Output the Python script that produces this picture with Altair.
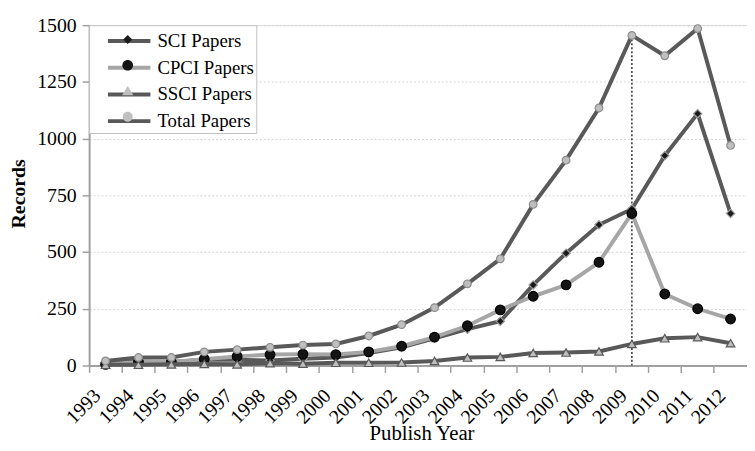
import altair as alt
import pandas as pd

years = ["1993", "1994", "1995", "1996", "1997", "1998", "1999", "2000", "2001", "2002",
         "2003", "2004", "2005", "2006", "2007", "2008", "2009", "2010", "2011", "2012"]
sci = [12, 17, 15, 25, 25, 22, 30, 35, 55, 80, 120, 160, 195, 355, 495, 620, 690, 925, 1110, 670]
cpci = [5, 15, 15, 28, 40, 48, 50, 48, 60, 85, 125, 175, 245, 305, 355, 455, 670, 315, 250, 205]
ssci = [3, 3, 5, 7, 5, 10, 8, 12, 12, 13, 20, 35, 38, 55, 57, 62, 95, 120, 125, 98]
total = [20, 35, 35, 60, 70, 80, 90, 95, 130, 180, 255, 360, 470, 710, 905, 1135, 1455, 1365, 1485, 970]

names = ["SCI Papers", "CPCI Papers", "SSCI Papers", "Total Papers"]
values = [sci, cpci, ssci, total]

drop_year = ["2009"]
drop_top = [1455]

rows = []
for n, vals in zip(names, values):
    for yr, v in zip(years, vals):
        rows.append({"year": yr, "value": v, "series": n, "series_b": n + " "})
df = pd.DataFrame(rows)
drop_df = pd.DataFrame({"year": drop_year, "value": drop_top, "bottom": [0]})

FONT = "Liberation Serif"
W, H = 665, 344

line_colors = ["#595959", "#a6a6a6", "#595959", "#595959"]
marker = {
    "SCI Papers": dict(shape="diamond", fill="#1a1a1a", stroke="#9a9a9a", size=70),
    "CPCI Papers": dict(shape="circle", fill="#141414", stroke="#000000", size=95),
    "SSCI Papers": dict(shape="triangle-up", fill="#bfbfbf", stroke="#595959", size=75),
    "Total Papers": dict(shape="circle", fill="#bfbfbf", stroke="#8c8c8c", size=60),
}

x_axis = alt.Axis(title="Publish Year", labelAngle=-45, labelAlign="right", labelBaseline="middle",
                  bandPosition=0, labelOffset=-8, labelPadding=20, tickSize=7, tickColor="#a0a0a0",
                  tickWidth=1.5, domainColor="#a0a0a0", domainWidth=2, grid=False,
                  labelFont=FONT, labelFontSize=20, labelColor="#000000",
                  titleFont=FONT, titleFontSize=21, titleFontWeight="normal", titleColor="#000000",
                  titleX=336, titleY=75, titleBaseline="alphabetic", titleAlign="center")
y_axis = alt.Axis(title="Records", values=[0, 250, 500, 750, 1000, 1250, 1500], format="d",
                  tickSize=7, tickColor="#a0a0a0", tickWidth=1.5, domainColor="#a0a0a0",
                  domainWidth=2, grid=True, gridColor="#d4d4d4", gridDash=[2, 2], gridWidth=1,
                  labelFont=FONT, labelFontSize=20, labelColor="#000000", labelPadding=6,
                  titleFont=FONT, titleFontSize=20, titleFontWeight="bold", titleColor="#000000",
                  titleX=-71, titleY=170, titleBaseline="middle", titleAlign="center", titleAngle=-90)
x_scale = alt.Scale(type="band", domain=years, paddingInner=0, paddingOuter=0)
y_scale = alt.Scale(domain=[0, 1500], nice=False)
x_enc = alt.X("year:O", scale=x_scale, axis=x_axis)
y_enc = alt.Y("value:Q", scale=y_scale, axis=y_axis)

base = alt.Chart(df)
layers = []

drop = alt.Chart(drop_df).mark_rule(color="#333333", strokeDash=[2, 2], strokeWidth=1.5).encode(
    x=x_enc, y=y_enc, y2="bottom:Q")
layers.append(drop)

for n, c in zip(names, line_colors):
    m = marker[n]
    sub = base.transform_filter(alt.datum.series == n)
    layers.append(sub.mark_line(color=c, strokeWidth=4).encode(x=x_enc, y=y_enc))
    layers.append(sub.mark_point(filled=True, shape=m["shape"], fill=m["fill"], stroke=m["stroke"],
                                 strokeWidth=1.2, size=m["size"], opacity=1).encode(x=x_enc, y=y_enc))

# legend geometry: symbol nominal size 24px, line path extends beyond it
common_legend = dict(orient="none", legendX=0, legendY=0, title=None, symbolSize=576,
                     labelFont=FONT, labelFontSize=19, labelColor="#000000", labelOffset=14.5,
                     padding=2, symbolOffset=24.5, rowPadding=3, labelLimit=300, symbolOpacity=1)

legA = base.transform_filter("false").mark_point(filled=False, opacity=1).encode(
    color=alt.Color("series:N", scale=alt.Scale(domain=names, range=line_colors),
                    legend=alt.Legend(symbolType="M-1.79,0H1.79", symbolStrokeWidth=4,
                                      fillColor="#ffffff", strokeColor="#c0c0c0", zindex=1,
                                      labelExpr="datum.label + '\u00a0\u00a0\u00a0'",
                                      **common_legend)))

paths = [
    "M0,-0.38L0.38,0L0,0.38L-0.38,0Z",
    "M-0.45,0A0.45,0.45 0 1,0 0.45,0A0.45,0.45 0 1,0 -0.45,0Z",
    "M0,-0.42L0.47,0.36L-0.47,0.36Z",
    "M-0.42,0A0.42,0.42 0 1,0 0.42,0A0.42,0.42 0 1,0 -0.42,0Z",
]
names_b = [n + " " for n in names]
legB_props = dict(labelExpr="''", symbolStrokeColor="#7a7a7a", symbolStrokeWidth=1, zindex=2, **common_legend)
legB = base.transform_filter("false").mark_point(filled=True, opacity=1).encode(
    fill=alt.Fill("series_b:N", scale=alt.Scale(domain=names_b,
                                                 range=["#1a1a1a", "#141414", "#bfbfbf", "#bfbfbf"]),
                  legend=alt.Legend(**legB_props)),
    shape=alt.Shape("series_b:N", scale=alt.Scale(domain=names_b, range=paths),
                    legend=alt.Legend(**legB_props)))

chart = alt.layer(*layers, legA, legB).properties(
    width=W, height=H,
    autosize=alt.AutoSizeParams(type="none"),
    padding={"left": 82, "top": 15, "right": 0, "bottom": 76},
).configure_view(stroke=None).configure_legend(strokeWidth=2).configure_axis(
    labelFont=FONT, titleFont=FONT).configure(font=FONT).resolve_scale(
    color="independent", fill="independent", shape="independent")

chart.save("out.html", embed_options={"renderer": "svg", "actions": False})
